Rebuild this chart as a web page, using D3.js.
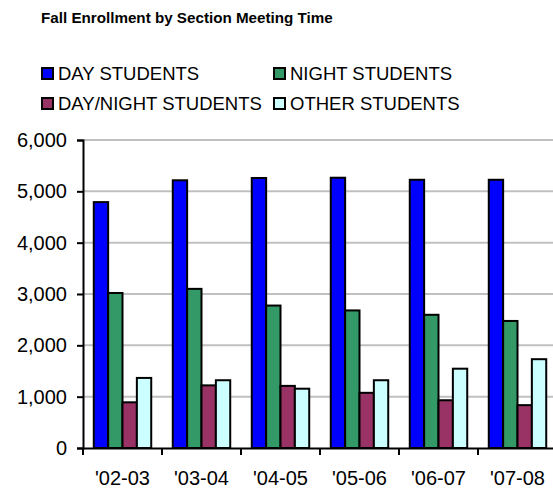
<!DOCTYPE html>
<html>
<head>
<meta charset="utf-8">
<script src="https://cdn.jsdelivr.net/npm/d3@7"></script>
<style>
  body { margin: 0; background: #fff; }
  svg { display: block; font-family: 'Liberation Sans', Arial, sans-serif; }
</style>
</head>
<body>
<svg id="chart" width="553" height="493"></svg>
<script>
const WIDTH = 553
const HEIGHT = 493

// chart data
var years = ["'02-03", "'03-04", "'04-05", "'05-06", "'06-07", "'07-08"]
var seriesNames = ['DAY STUDENTS', 'NIGHT STUDENTS', 'DAY/NIGHT STUDENTS', 'OTHER STUDENTS']
var dayStudents = [4790, 5215, 5260, 5265, 5225, 5225]
var nightStudents = [3020, 3100, 2775, 2680, 2595, 2475]
var dayNightStudents = [890, 1220, 1210, 1075, 930, 835]
var otherStudents = [1365, 1320, 1155, 1320, 1545, 1730]
var yTicks = [0, 1000, 2000, 3000, 4000, 5000, 6000]

var seriesValues = [dayStudents, nightStudents, dayNightStudents, otherStudents]
var colors = ['#0000ff', '#339966', '#993366', '#ccffff']

var svg = d3.select('#chart')

var x0 = d3.scaleBand()
  .domain(years)
  .range([83, 557])

var x1 = d3.scaleBand()
  .domain(seriesNames)
  .range([0, x0.bandwidth()])
  .paddingInner(0)
  .paddingOuter(0.75)

var y = d3.scaleLinear()
  .domain([0, 6000])
  .range([448, 140])

// title
svg.append('text')
  .text('Fall Enrollment by Section Meeting Time')
  .attr('x', 41)
  .attr('y', 23)
  .attr('font-weight', 'bold')
  .attr('font-size', 15.2)

// legend, two columns
var legend = svg.selectAll('g.legend')
  .data(seriesNames)
  .enter().append('g')
  .attr('class', 'legend')
  .attr('transform', function (d, i) {
    return 'translate(' + (i % 2 === 0 ? 42 : 274) + ',' + (Math.floor(i / 2) * 30 + 68) + ')'
  })

legend.append('rect')
  .attr('width', 11)
  .attr('height', 11)
  .attr('fill', function (d, i) { return colors[i] })
  .attr('stroke', '#000')
  .attr('stroke-width', 2)

legend.append('text')
  .text(function (d) { return d })
  .attr('x', 16)
  .attr('y', 12)
  .attr('font-size', 18.5)

// gridlines
svg.append('g')
  .selectAll('line')
  .data(yTicks.slice(1))
  .enter().append('line')
  .attr('x1', 83)
  .attr('x2', WIDTH)
  .attr('y1', function (d) { return y(d) })
  .attr('y2', function (d) { return y(d) })
  .attr('stroke', '#c0c0c0')
  .attr('stroke-width', 2)

// bars
var groups = svg.append('g')
  .selectAll('g')
  .data(years)
  .enter().append('g')
  .attr('transform', function (d) { return 'translate(' + x0(d) + ',0)' })

groups.selectAll('rect')
  .data(function (d, yi) {
    return seriesNames.map(function (s, si) {
      return { name: s, value: seriesValues[si][yi], color: colors[si] }
    })
  })
  .enter().append('rect')
  .attr('x', function (d) { return x1(d.name) })
  .attr('y', function (d) { return y(d.value) })
  .attr('width', x1.bandwidth())
  .attr('height', function (d) { return y(0) - y(d.value) })
  .attr('fill', function (d) { return d.color })
  .attr('stroke', '#000')
  .attr('stroke-width', 2)

// axes
var yAxis = svg.append('g')
  .attr('transform', 'translate(83,0)')
  .call(d3.axisLeft(y)
    .tickValues(yTicks)
    .tickSize(6)
    .tickPadding(10)
    .tickFormat(d3.format(',')))

var xAxis = svg.append('g')
  .attr('transform', 'translate(0,448)')
  .call(d3.axisBottom(x0)
    .tickSize(0)
    .tickPadding(23))

// category boundary ticks like excel draws them
xAxis.selectAll('line.boundary')
  .data(years)
  .enter().append('line')
  .attr('class', 'boundary')
  .attr('x1', function (d) { return x0(d) })
  .attr('x2', function (d) { return x0(d) })
  .attr('y1', 0)
  .attr('y2', 7)
  .attr('stroke', '#000')
  .attr('stroke-width', 2)

svg.selectAll('.domain')
  .attr('stroke', '#000')
  .attr('stroke-width', 2)

yAxis.selectAll('.tick line')
  .attr('stroke', '#000')
  .attr('stroke-width', 2)

svg.selectAll('.tick text')
  .attr('font-size', 20)
  .attr('font-family', "'Liberation Sans', Arial, sans-serif")
  .attr('fill', '#000')
</script>
</body>
</html>
